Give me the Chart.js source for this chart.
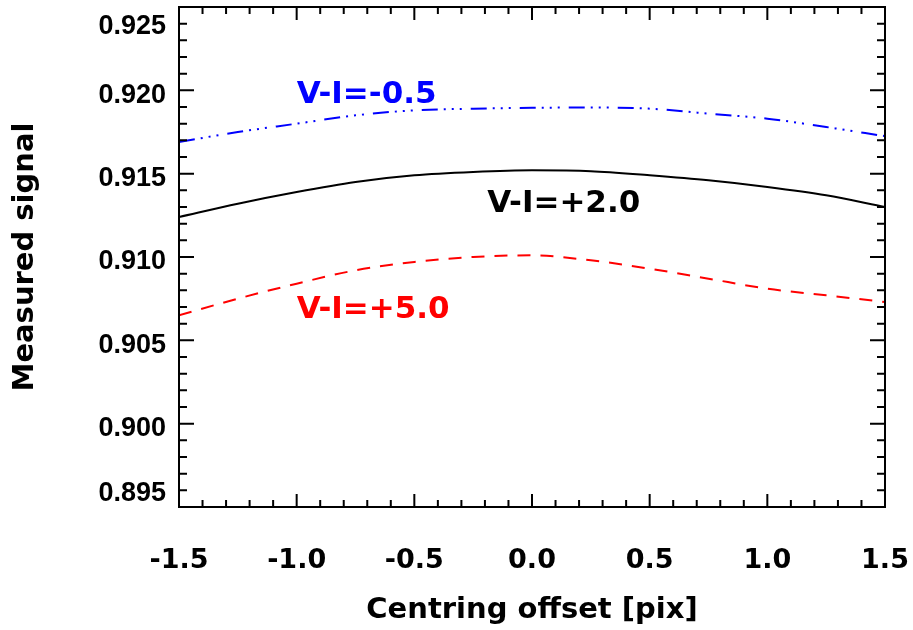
<!DOCTYPE html>
<html>
<head>
<meta charset="utf-8">
<script src="https://cdn.jsdelivr.net/npm/chart.js@4.4.0/dist/chart.umd.min.js"></script>
<style>
html, body { margin: 0; padding: 0; background: #fff; }
#wrap { width: 913px; height: 630px; }
</style>
</head>
<body>
<div id="wrap"><canvas id="signal-chart"></canvas></div>
<script>
// centring offset [pix] and measured signal for three colours
var offsets = [-1.5, -1.25, -1.0, -0.75, -0.5, -0.25, 0.0, 0.25, 0.5, 0.75, 1.0, 1.25, 1.5];
var signalBlue = [0.9169, 0.9175, 0.9180, 0.9185, 0.9188, 0.9189, 0.91895, 0.91897, 0.9189, 0.9186, 0.9183, 0.9178, 0.91725];
var signalBlack = [0.9124, 0.9132, 0.9139, 0.9145, 0.9149, 0.9151, 0.9152, 0.91515, 0.9149, 0.9146, 0.9142, 0.9137, 0.9130];
var signalRed = [0.9065, 0.9075, 0.9084, 0.9092, 0.9097, 0.9100, 0.9101, 0.9098, 0.9093, 0.9087, 0.9081, 0.9077, 0.9073];

var seriesNames = ["V-I=-0.5", "V-I=+2.0", "V-I=+5.0"];
var seriesColors = ["#0000ff", "#000000", "#ff0000"];
var labelX = [-1.0, -0.19, -1.0];
var labelY = [0.9197, 0.9132, 0.9068];

var xTickLabels = ["-1.5", "-1.0", "-0.5", "0.0", "0.5", "1.0", "1.5"];
var yTickLabels = ["0.895", "0.900", "0.905", "0.910", "0.915", "0.920", "0.925"];

function points(ys) {
    return offsets.map(function (x, i) { return { x: x, y: ys[i] }; });
}

// IDL style box: ticks inside on all four sides, labels drawn by hand on y
var boxPlugin = {
    id: "box",
    afterDatasetsDraw: function (chart) {
        var ctx = chart.ctx, a = chart.chartArea;
        var xs = chart.scales.x, ys = chart.scales.y;
        ctx.save();
        ctx.strokeStyle = "#000";
        ctx.lineWidth = 2;
        ctx.strokeRect(a.left, a.top, a.right - a.left, a.bottom - a.top);
        ctx.beginPath();
        for (var i = 0; i <= 30; i++) {
            var px = xs.getPixelForValue(-1.5 + i * 0.1);
            var len = i % 5 === 0 ? 13 : 7;
            ctx.moveTo(px, a.bottom); ctx.lineTo(px, a.bottom - len);
            ctx.moveTo(px, a.top); ctx.lineTo(px, a.top + len);
        }
        for (var j = 0; j <= 30; j++) {
            var py = ys.getPixelForValue(0.895 + j * 0.001);
            var ylen = j % 5 === 0 ? 15 : 8;
            ctx.moveTo(a.left, py); ctx.lineTo(a.left + ylen, py);
            ctx.moveTo(a.right, py); ctx.lineTo(a.right - ylen, py);
        }
        ctx.stroke();

        ctx.fillStyle = "#000";
        ctx.font = "bold 27px 'Liberation Sans'";
        ctx.textAlign = "right";
        ctx.textBaseline = "middle";
        yTickLabels.forEach(function (t) {
            var y = ys.getPixelForValue(parseFloat(t)) + 5;
            y = Math.min(Math.max(y, a.top + 20), a.bottom - 13);
            ctx.fillText(t, 166, y);
        });

        ctx.font = "bold 31px 'DejaVu Sans'";
        ctx.textAlign = "left";
        seriesNames.forEach(function (name, i) {
            ctx.fillStyle = seriesColors[i];
            ctx.fillText(name, xs.getPixelForValue(labelX[i]), ys.getPixelForValue(labelY[i]));
        });
        ctx.restore();
    }
};

var ctx = document.getElementById("signal-chart").getContext("2d");

var signalChart = new Chart(ctx, {
    type: "line",
    data: {
        datasets: [{
            label: seriesNames[0],
            data: points(signalBlue),
            borderColor: seriesColors[0],
            borderWidth: 2,
            borderDash: [16, 6, 2, 6, 2, 6, 2, 9]
        }, {
            label: seriesNames[1],
            data: points(signalBlack),
            borderColor: seriesColors[1],
            borderWidth: 2
        }, {
            label: seriesNames[2],
            data: points(signalRed),
            borderColor: seriesColors[2],
            borderWidth: 2,
            borderDash: [13, 10]
        }]
    },
    options: {
        responsive: true,
        maintainAspectRatio: false,
        animation: false,
        elements: {
            point: { radius: 0 },
            line: { cubicInterpolationMode: "monotone" }
        },
        layout: { padding: { top: 7, right: 28, left: 0, bottom: 0 } },
        plugins: {
            legend: { display: false },
            tooltip: { enabled: false }
        },
        scales: {
            x: {
                type: "linear",
                min: -1.5,
                max: 1.5,
                grid: { display: false, drawTicks: false },
                border: { display: false },
                ticks: {
                    stepSize: 0.5,
                    padding: 38,
                    color: "#000",
                    maxRotation: 0,
                    font: { family: "DejaVu Sans", size: 27, weight: "bold" },
                    callback: function (v, i) { return xTickLabels[i]; }
                },
                title: {
                    display: true,
                    text: "Centring offset [pix]",
                    color: "#000",
                    padding: { top: 0, bottom: 2 },
                    font: { family: "DejaVu Sans", size: 29, weight: "bold" }
                },
                afterFit: function (s) {
                    s.height = 123;
                    s.paddingLeft = 0;
                    s.paddingRight = 0;
                }
            },
            y: {
                min: 0.895,
                max: 0.925,
                grid: { display: false, drawTicks: false },
                border: { display: false },
                ticks: { display: false },
                title: {
                    display: true,
                    text: "Measured signal",
                    color: "#000",
                    padding: { top: 8, bottom: 0 },
                    font: { family: "DejaVu Sans", size: 29, weight: "bold" }
                },
                afterFit: function (s) {
                    s.width = 179;
                    s.paddingTop = 0;
                    s.paddingBottom = 0;
                }
            }
        }
    },
    plugins: [boxPlugin]
});
</script>
</body>
</html>
